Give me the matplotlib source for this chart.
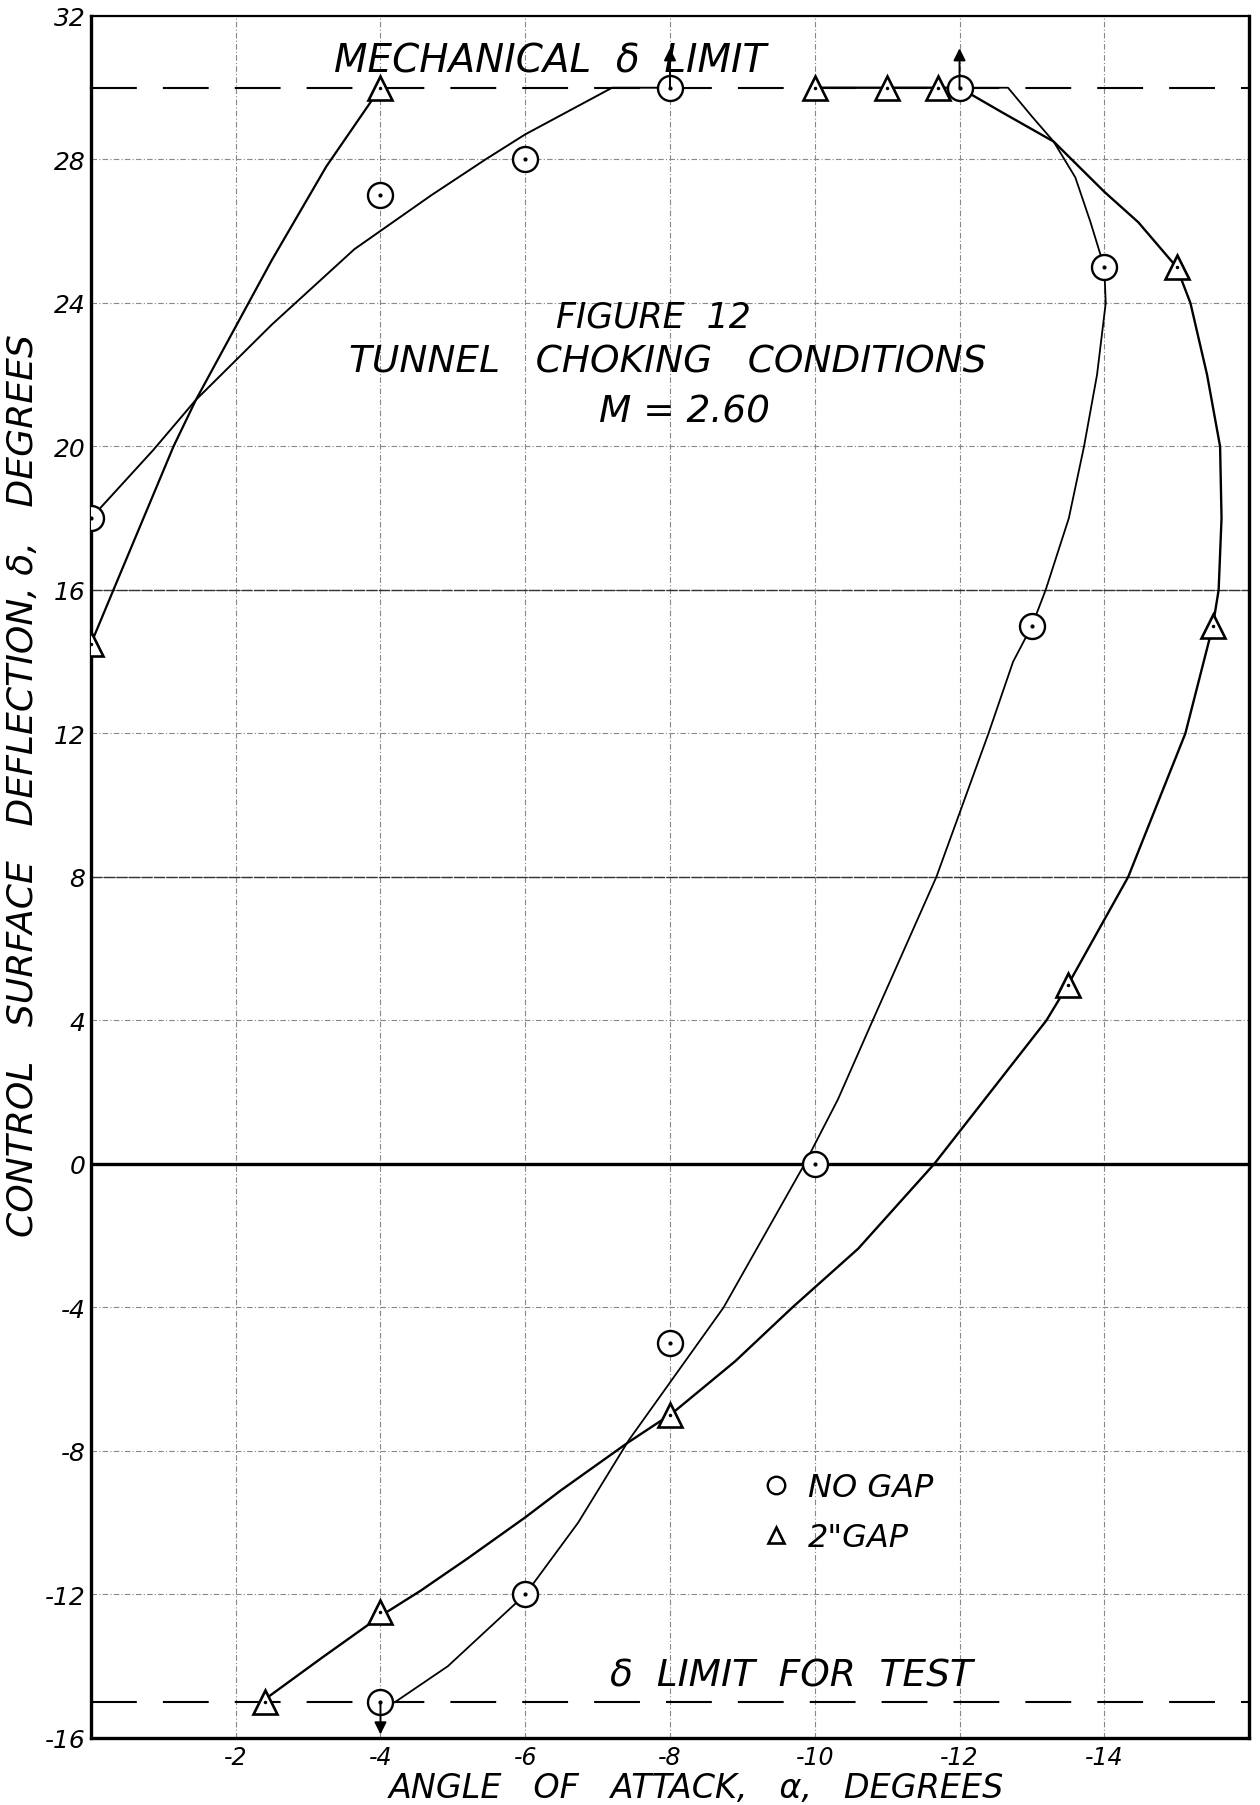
import matplotlib
matplotlib.use("Agg")
import matplotlib.pyplot as plt

nogap_alpha = [0, -4, -6, -8, -12, -14, -13, -10, -8, -6, -4]
nogap_delta = [18, 27, 28, 30, 30, 25, 15, 0, -5, -12, -15]
gap_alpha = [0, -4, -10, -11, -11.7, -15, -15.5, -13.5, -8, -4, -2.4]
gap_delta = [14.5, 30, 30, 30, 30, 25, 15, 5, -7, -12.5, -15]

# faired curves, traced by eye
nogap_up_a = [0, -0.86, -1.45, -2.5, -3.64, -4.7, -5.45, -6.0, -7.2, -8.0]
nogap_up_d = [18, 19.9, 21.3, 23.4, 25.5, 27.0, 28.0, 28.7, 30, 30]
nogap_lo_a = [-12, -12.67, -13.0, -13.3, -13.6, -13.81, -14.0, -14.02, -13.9, -13.72,
              -13.51, -13.19, -13.0, -12.74, -12.4, -11.68, -10.8, -10.32, -9.86,
              -8.74, -7.43, -6.73, -6.0, -4.93, -4.2]
nogap_lo_d = [30, 30, 29.2, 28.5, 27.5, 26.25, 25, 24, 22, 20,
              18, 16, 15, 14, 12, 8, 4, 1.8, 0,
              -4, -7.7, -10, -12, -14, -15]
gap_up_a = [0, -0.31, -1.14, -1.45, -2.5, -3.25, -4.0]
gap_up_d = [14.5, 16, 20, 21.3, 25.2, 27.8, 30]
gap_lo_a = [-10, -11, -11.7, -12, -12.6, -13.3, -14.0, -14.47, -15.0, -15.19, -15.42,
            -15.6, -15.62, -15.58, -15.5, -15.12, -14.33, -13.5, -13.2, -11.65, -10.6,
            -9.69, -8.9, -8.03, -7.43, -6.49, -6.0, -5.2, -4.55, -4.0, -3.2, -2.35]
gap_lo_d = [30, 30, 30, 30, 29.3, 28.5, 27.1, 26.25, 25, 24, 22,
            20, 18, 16, 15, 12, 8, 5, 4, 0, -2.36,
            -4, -5.5, -6.95, -7.75, -9.1, -9.85, -11.0, -11.9, -12.6, -13.75, -15]

# arrows = point runs off the limit
arrow_alpha = [-8, -12, -4]
arrow_from = [30, 30, -15]
arrow_to = [31.1, 31.1, -15.9]

mech_limit = 30
test_limit = -15
xticks = [-2, -4, -6, -8, -10, -12, -14]
yticks = [-16, -12, -8, -4, 0, 4, 8, 12, 16, 20, 24, 28, 32]

plt.rcParams['font.family'] = ['DejaVu Sans']
plt.rcParams['font.style'] = 'italic'

fig = plt.figure(figsize=(12.6, 18.06), dpi=100)
ax = fig.add_axes([0.0722, 0.0371, 0.9191, 0.9535])
ax.set_xlim(0, -16)
ax.set_ylim(-16, 32)

# grid
ax.set_xticks(xticks)
ax.set_yticks(yticks)
ax.set_xticklabels([str(t) for t in xticks], fontsize=17)
ax.set_yticklabels([str(t) for t in yticks], fontsize=18)
ax.tick_params(axis='y', length=0, pad=4)
ax.tick_params(axis='x', length=0, pad=5)
ax.grid(True, color='#888888', lw=0.8, ls=(0, (5, 2, 1, 2)))
for yv in [8, 16]:
    ax.axhline(yv, color='#333333', lw=1.0, ls=(0, (8, 1)))
ax.axhline(0, color='black', lw=2.4)
for s in ax.spines.values():
    s.set_linewidth(2.4)
ax.spines['top'].set_linewidth(1.6)

# limits
dash = (0, (22, 12.5))
ax.axhline(mech_limit, color='black', lw=1.5, ls=dash)
ax.axhline(test_limit, color='black', lw=1.5, ls=dash)

# curves
ax.plot(nogap_up_a, nogap_up_d, color='black', lw=1.4)
ax.plot(nogap_lo_a, nogap_lo_d, color='black', lw=1.3)
ax.plot(gap_up_a, gap_up_d, color='black', lw=1.6)
ax.plot(gap_lo_a, gap_lo_d, color='black', lw=1.7)

# points
ax.plot(nogap_alpha, nogap_delta, ls='none', marker='o', ms=18, mfc='white',
        mec='black', mew=1.7, label='NO GAP', zorder=5)
ax.plot(nogap_alpha, nogap_delta, ls='none', marker='.', ms=4, color='black', zorder=6)
ax.plot(gap_alpha, gap_delta, ls='none', marker='^', ms=17, mfc='white',
        mec='black', mew=1.9, label='2"GAP', zorder=5)
ax.plot(gap_alpha, gap_delta, ls='none', marker='.', ms=3, color='black', zorder=6)

for a, d0, d1 in zip(arrow_alpha, arrow_from, arrow_to):
    ax.annotate('', xy=(a, d1), xytext=(a, d0),
                arrowprops=dict(arrowstyle='-|>', color='black', lw=1.4,
                                mutation_scale=18, shrinkA=0, shrinkB=0), zorder=7)

# lettering
ax.text(-6.35, 30.75, 'MECHANICAL  \u03b4  LIMIT', fontsize=28, ha='center', va='center')
ax.text(-7.77, 23.63, 'FIGURE  12', fontsize=25, ha='center', va='center')
ax.text(-7.97, 22.37, 'TUNNEL   CHOKING   CONDITIONS', fontsize=27, ha='center', va='center')
ax.text(-8.2, 20.98, 'M = 2.60', fontsize=27, ha='center', va='center')
ax.text(-9.67, -14.25, '\u03b4  LIMIT  FOR  TEST', fontsize=27, ha='center', va='center')

ax.legend(loc='center left', bbox_to_anchor=(0.567, 0.131), frameon=False,
          fontsize=23, markerscale=0.7, handlelength=0.8, handletextpad=0.6,
          borderpad=0, labelspacing=0.6)

fig.text(0.553, 0.0095, 'ANGLE   OF   ATTACK,   \u03b1,   DEGREES', fontsize=24,
         ha='center', va='center')
fig.text(0.018, 0.565, 'CONTROL   SURFACE   DEFLECTION, \u03b4,   DEGREES', fontsize=26,
         ha='center', va='center', rotation=90)

fig.savefig('out.png', dpi=100)
